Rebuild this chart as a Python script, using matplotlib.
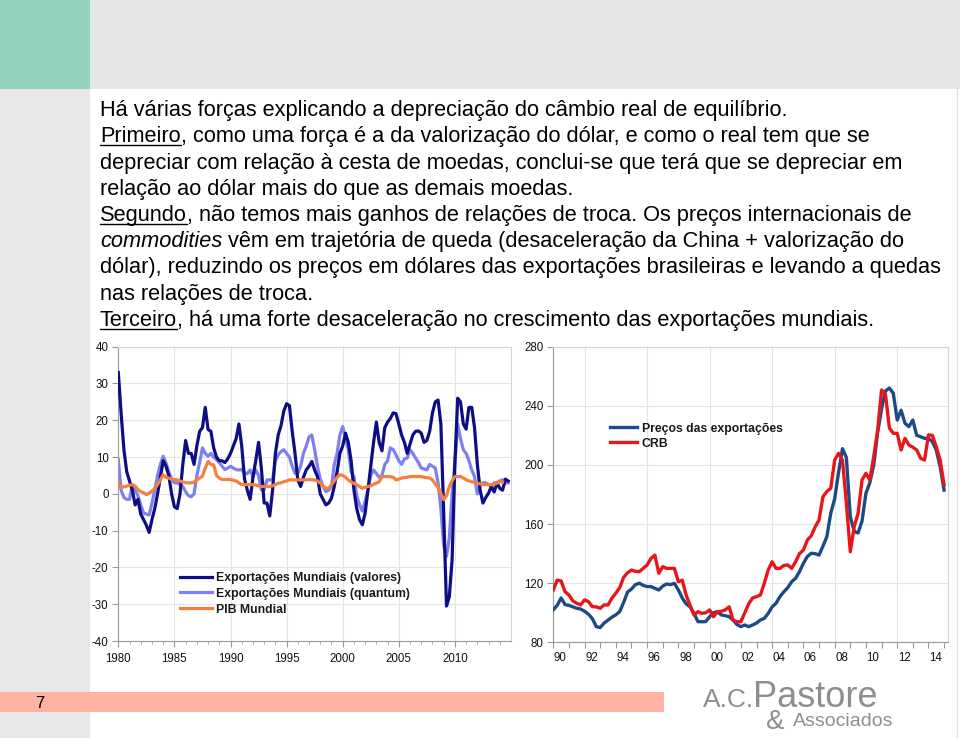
import matplotlib
matplotlib.use('Agg')
import matplotlib.pyplot as plt
from matplotlib.patches import Rectangle
import numpy as np

plt.rcParams['font.family'] = ['Liberation Sans', 'DejaVu Sans']
plt.rcParams['axes.unicode_minus'] = False

# ---- left chart: world exports / GDP, % per year, quarterly from 1980 ----
valores = [33, 22, 12, 6, 3.5, 1, -3, -1.5,
           -5.5, -7, -8.5, -10.5, -7, -4, 0, 4.5,
           9, 7.5, 5, 0, -3.5, -4, 0, 8,
           14.5, 11, 11, 8, 13, 17, 18, 23.5,
           17.5, 17, 12.5, 10, 9, 9, 8.5, 9.5,
           11, 13, 15, 19, 13, 4, 1, -1.5,
           4.5, 9, 14, 7, -2.5, -2.5, -6, 1,
           11, 16, 18.5, 22.5, 24.5, 24, 17, 11,
           3.8, 2, 4.5, 6.5, 7.5, 8.8, 6.5, 4.7,
           0, -1.5, -3, -2.5, -1.2, 2, 6, 11,
           13, 16.5, 14, 9, 1.1, -4, -7, -8.4,
           -5.2, 1, 7.5, 14, 19.5, 14, 11.7, 18,
           19.5, 20.5, 22, 21.8, 19, 16, 14, 11,
           13.5, 16, 17, 17.1, 16.5, 14, 14.5, 17,
           22, 25, 25.5, 19, -5, -30.5, -28, -18,
           8.4, 26, 25, 19, 17.6, 23.5, 23.5, 18,
           8, 1, -2.5, -1, 0.2, 2, 0.5, 3,
           1.5, 1, 4, 3.5]
quantum = [9.3, 1, -1, -1.5, -1.5, 2.5, 1, -0.5,
           -3, -5.2, -5.5, -5.7, -2.5, 1, 5, 8,
           10.2, 8.4, 6, 4, 3, 3, 2.5, 2,
           0.6, -0.5, -0.8, 0, 5, 8.5, 12.5, 11,
           10.2, 11, 10, 9.3, 8.5, 7.5, 6.6, 7,
           7.5, 7, 6.6, 6.5, 6.6, 5.6, 5.5, 6.5,
           4.7, 6.5, 5, 1.1, 1.1, 3.8, 3.8, 3.8,
           9, 10.6, 11.5, 12, 11, 10, 7.5, 5.6,
           5.6, 7.5, 11, 13, 15.5, 16, 12, 7.5,
           4, 2, 0.6, 1, 2, 8, 11, 16,
           18.3, 15, 12, 6, 4.7, -0.5, -3, -4.7,
           -2, 1.1, 5, 6.5, 5.5, 4.5, 5, 8,
           9, 12.5, 12, 10.6, 9, 8, 9.5, 9.7,
           12, 11, 9.7, 8.5, 7, 6.8, 6.5, 8,
           7.5, 7, 3, -4, -14, -17, -12, 0,
           8.4, 19, 15, 12, 11, 9, 6.5, 4.7,
           0, 2.5, 3, 3, 2.5, 2, 3, 3,
           3.5, 3.8, 3, 3]
pib = [3, 1.7, 1.9, 2.1, 2.3, 2.5, 2.1, 1.2,
       0.6, 0.3, -0.2, 0.2, 0.7, 1.5, 2.5, 3.8,
       5.2, 4.5, 4.3, 3.9, 3.9, 3.8, 3.5, 3.2,
       3, 3, 3, 3.2, 3.8, 4.3, 4.8, 7,
       8.8, 8, 7.9, 5, 4.3, 3.9, 3.9, 3.9,
       3.9, 3.7, 3.5, 3, 2.5, 2.5, 2.5, 2.5,
       2.5, 2.4, 2.2, 2, 2, 2, 2, 2.2,
       2.5, 2.9, 3, 3.3, 3.5, 3.8, 3.8, 3.8,
       3.8, 3.8, 3.8, 3.8, 3.9, 3.8, 3.8, 3.5,
       2.9, 2.2, 1.5, 1.5, 2.5, 3.5, 4.5, 5.2,
       5, 4.5, 3.8, 3.3, 2.8, 2.5, 2, 1.5,
       1.8, 2, 2.2, 2.6, 2.9, 3.3, 4.7, 4.7,
       4.7, 4.7, 4.5, 3.8, 4, 4.3, 4.4, 4.5,
       4.7, 4.7, 4.7, 4.7, 4.7, 4.5, 4.4, 4.3,
       3.8, 2.7, 1.7, 0.2, -1.6, -0.5, 2, 3.5,
       4.7, 4.7, 4.7, 4.3, 3.8, 3.5, 3.3, 3.1,
       2.9, 2.7, 2.5, 2.5, 2.5, 2.5, 2.6, 2.9,
       3.3, 3.2]
left_labels = ['Exportações Mundiais (valores)', 'Exportações Mundiais (quantum)', 'PIB Mundial']

# ---- right chart: export prices vs CRB, index 2000=100, quarterly from 1990 ----
precos = [102, 105, 110, 105.5, 105, 104, 103, 102.5,
          101, 99, 96, 90.6, 90, 93, 95, 97,
          98.6, 100.8, 107, 114, 116, 119, 120, 118.5,
          117.7, 117.7, 116.5, 115.4, 118, 119.5, 119, 119.9,
          115.4, 110, 106, 104, 99.6, 94, 93.9, 94,
          97.3, 100, 100.7, 98.5, 98, 97.3, 95.1, 92,
          90.6, 91.7, 90.6, 91.7, 93, 95.1, 96.2, 99.6,
          104, 106.4, 110.9, 114.2, 117, 121, 123.3, 127.8,
          133.4, 138, 140.2, 140, 139, 145, 151.5, 167.3,
          177, 195, 211, 205, 165, 155, 154, 162,
          180.8, 188, 200, 222, 238, 250, 252, 248.5,
          230.4, 237, 228.2, 225.9, 230.4, 220, 219.1, 218,
          218, 215.7, 210.1, 198.8, 183]
crb = [115.4, 122.1, 121.5, 114.3, 112, 108, 106.4, 105.3,
       108.7, 107.5, 104.1, 104, 103, 105.3, 105.3, 109.8,
       113.2, 117, 124, 127, 128.9, 128, 127.8, 130,
       132.3, 136.8, 139, 126.7, 131.2, 130, 130, 130,
       121, 122, 112, 105, 98.5, 100.7, 99.6, 100,
       101.9, 97.3, 100.7, 101, 101.9, 104, 95.1, 93.9,
       93.9, 100, 106, 110, 110.9, 112, 120, 129,
       134.5, 130, 130, 132, 132.3, 130, 134.5, 140,
       142.4, 149.1, 152, 158, 162.7, 178.5, 182, 184.2,
       203.3, 207.9, 203.3, 174, 141.3, 158.2, 167.3, 189.8,
       194.3, 189.8, 205.6, 223.6, 250.7, 248, 225, 221.4,
       221.4, 210.1, 218, 213.5, 212, 210.1, 204.5, 203.3,
       220.3, 220, 212.3, 203.3, 186.4]
right_labels = ['Preços das exportações', 'CRB']
right_years = ['90', '92', '94', '96', '98', '00', '02', '04', '06', '08', '10', '12', '14']

# ---- slide text ----
lines = [
    [('Há várias forças explicando a depreciação do câmbio real de equilíbrio.', '')],
    [('Primeiro', 'u'), (', como uma força é a da valorização do dólar, e como o real tem que se', '')],
    [('depreciar com relação à cesta de moedas, conclui-se que terá que se depreciar em', '')],
    [('relação ao dólar mais do que as demais moedas.', '')],
    [('Segundo', 'u'), (', não temos mais ganhos de relações de troca. Os preços internacionais de', '')],
    [('commodities', 'i'), (' vêm em trajetória de queda (desaceleração da China + valorização do', '')],
    [('dólar), reduzindo os preços em dólares das exportações brasileiras e levando a quedas', '')],
    [('nas relações de troca.', '')],
    [('Terceiro', 'u'), (', há uma forte desaceleração no crescimento das exportações mundiais.', '')],
]

fig = plt.figure(figsize=(9.6, 7.38), dpi=100)
bg = fig.add_axes([0, 0, 1, 1])
bg.set_xlim(0, 960)
bg.set_ylim(738, 0)
bg.axis('off')

bg.add_patch(Rectangle((0, 0), 960, 89, color='#e4e6e7', lw=0))
bg.add_patch(Rectangle((0, 0), 90, 89, color='#94d3bc', lw=0))
bg.add_patch(Rectangle((0, 89), 90, 649, color='#e6e7e8', lw=0))
bg.add_patch(Rectangle((0, 692), 664, 20, color='#fdb2a2', lw=0))
bg.plot([957, 957], [89, 738], color='#dddddd', lw=1)
bg.text(40, 703, '7', fontsize=12, va='center', ha='center', color='black')

# logo
grey = '#8e8e8e'
bg.text(703, 707, 'A.C.', fontsize=19, color=grey, va='baseline')
bg.text(753, 707, 'Pastore', fontsize=26, color=grey, va='baseline')
bg.text(766, 729, '&', fontsize=20, color=grey, va='baseline')
bg.text(793, 726, 'Associados', fontsize=14, color=grey, va='baseline')

rend = fig.canvas.get_renderer()


def width(t):
    return t.get_window_extent(rend).width


probe = bg.text(0, 0, lines[2][0][0], fontsize=15)
fs = 15 * 807 / width(probe)
probe.remove()
p1 = bg.text(0, 0, 'a a', fontsize=fs)
p2 = bg.text(0, 0, 'aa', fontsize=fs)
space_w = width(p1) - width(p2)
p1.remove()
p2.remove()

for i, segs in enumerate(lines):
    y = 116 + i * 26.25
    x = 100
    for j, (s, st) in enumerate(segs):
        if j > 0 and s.startswith(' '):
            x += space_w
            s = s[1:]
        t = bg.text(x, y, s, fontsize=fs, va='baseline', ha='left', color='black',
                    style='italic' if st == 'i' else 'normal')
        w = width(t)
        if st == 'u':
            bg.plot([x, x + w], [y + 3, y + 3], color='black', lw=1.0)
        x += w

tick_fs = 8.3
spine_c = '#9a9a9a'
light_c = '#d4d4d4'
grid_c = '#e4e4e4'
leg_prop = {'size': 8.8, 'weight': 'bold'}


def style_axes(ax):
    ax.grid(True, color=grid_c, lw=0.8)
    ax.set_axisbelow(True)
    for side in ['left', 'bottom']:
        ax.spines[side].set_color(spine_c)
    for side in ['top', 'right']:
        ax.spines[side].set_color(light_c)
    ax.tick_params(axis='both', which='both', direction='out', color=spine_c,
                   labelsize=tick_fs, labelcolor='#111111')
    ax.tick_params(axis='y', length=4, pad=3)


# ---- left chart ----
axL = fig.add_axes([118.3 / 960, 1 - 641 / 738, 392.7 / 960, 294.3 / 738])
xq = 1980 + np.arange(len(valores)) * 0.25
xp = 1980 + np.arange(len(pib)) * 0.25
axL.plot(xq, quantum, color='#7f7ff2', lw=2.3, zorder=2, label=left_labels[1])
axL.plot(xq, valores, color='#0d0d84', lw=2.3, zorder=3, label=left_labels[0])
axL.plot(xp, pib, color='#f4803e', lw=2.3, zorder=4, label=left_labels[2])
axL.set_xlim(1980, 2015)
axL.set_ylim(-40, 40)
axL.set_yticks(range(-40, 41, 10))
axL.set_xticks(range(1980, 2011, 5))
axL.set_xticks(range(1980, 2015), minor=True)
style_axes(axL)
axL.grid(False, which='minor')
axL.tick_params(axis='x', which='major', length=4, pad=5)
axL.tick_params(axis='x', which='minor', length=2.5)
bg.text(125, 563, '% ao ano', rotation=90, fontsize=8, ha='center', va='center', color='#111111')
h, l = axL.get_legend_handles_labels()
order = [1, 0, 2]
axL.legend([h[k] for k in order], [l[k] for k in order], loc='upper left',
           bbox_to_anchor=(0.157, 0.235), frameon=False, borderaxespad=0, borderpad=0,
           handlelength=2.6, handletextpad=0.35, labelspacing=0.32,
           prop=leg_prop, labelcolor='#1a1a1a')

# ---- right chart ----
axR = fig.add_axes([553.3 / 960, 1 - 642.3 / 738, 395 / 960, 295.6 / 738])
xr = 1990 + np.arange(len(precos)) * 0.25
axR.plot(xr, precos, color='#1b4b86', lw=2.4, zorder=3, label=right_labels[0])
axR.plot(xr, crb, color='#e8161b', lw=2.4, zorder=4, label=right_labels[1])
axR.set_xlim(1990, 2015.27)
axR.set_ylim(80, 280)
axR.set_yticks(range(80, 281, 40))
style_axes(axR)
axR.grid(False)
axR.grid(True, axis='y', color=grid_c, lw=0.8)
for yr in range(1992, 2015, 4):
    axR.axvline(yr, color=grid_c, lw=0.8, zorder=0)
axR.set_xticks(range(1990, 2016))
axR.set_xticklabels([])
axR.set_xticks([1990.45 + 2 * k for k in range(len(right_years))], minor=True)
axR.set_xticklabels(right_years, minor=True)
axR.tick_params(axis='x', which='major', length=4)
axR.tick_params(axis='x', which='minor', length=0, pad=7)
bg.text(561, 497, 'Índice (2000=100)', rotation=90, fontsize=8, ha='center', va='center', color='#111111')
axR.legend(loc='upper left', bbox_to_anchor=(0.1435, 0.743), frameon=False, borderaxespad=0,
           borderpad=0, handlelength=2.2, handletextpad=0.4, labelspacing=0.25,
           prop=leg_prop, labelcolor='#1a1a1a')

fig.savefig('out.png', dpi=100)
